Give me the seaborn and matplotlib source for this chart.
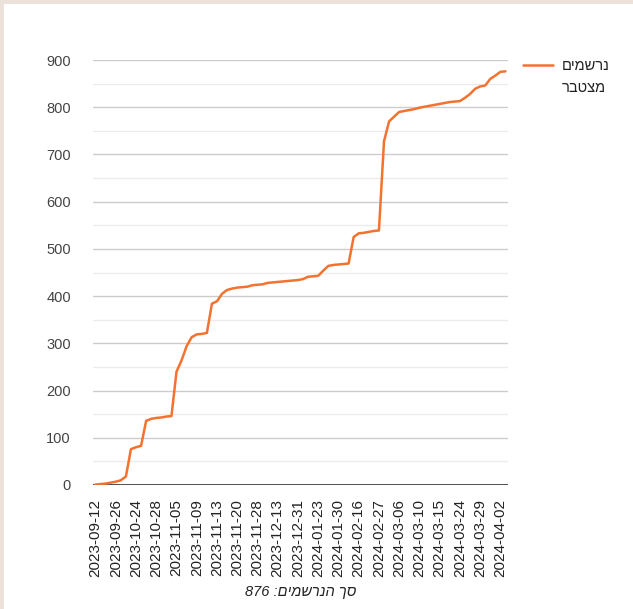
"""
Cumulative registrations chart (line chart, categorical date axis).
"""
import re

import numpy as np
import pandas as pd
import seaborn as sns
import matplotlib.pyplot as plt
from matplotlib.patches import Rectangle
from matplotlib.ticker import MultipleLocator

dates = [
    "2023-09-12", "2023-09-14", "2023-09-18", "2023-09-21",
    "2023-09-26", "2023-10-01", "2023-10-08", "2023-10-16",
    "2023-10-24", "2023-10-25", "2023-10-26", "2023-10-27",
    "2023-10-28", "2023-10-30", "2023-11-01", "2023-11-03",
    "2023-11-05", "2023-11-06", "2023-11-07", "2023-11-08",
    "2023-11-09", "2023-11-10", "2023-11-11", "2023-11-12",
    "2023-11-13", "2023-11-14", "2023-11-16", "2023-11-19",
    "2023-11-20", "2023-11-22", "2023-11-23", "2023-11-26",
    "2023-11-28", "2023-12-01", "2023-12-05", "2023-12-10",
    "2023-12-13", "2023-12-17", "2023-12-21", "2023-12-26",
    "2023-12-31", "2024-01-04", "2024-01-10", "2024-01-16",
    "2024-01-23", "2024-01-24", "2024-01-25", "2024-01-28",
    "2024-01-30", "2024-02-04", "2024-02-08", "2024-02-13",
    "2024-02-16", "2024-02-19", "2024-02-22", "2024-02-25",
    "2024-02-27", "2024-02-29", "2024-03-03", "2024-03-05",
    "2024-03-06", "2024-03-07", "2024-03-08", "2024-03-09",
    "2024-03-10", "2024-03-11", "2024-03-12", "2024-03-14",
    "2024-03-15", "2024-03-17", "2024-03-19", "2024-03-21",
    "2024-03-24", "2024-03-25", "2024-03-26", "2024-03-27",
    "2024-03-29", "2024-03-30", "2024-03-31", "2024-04-01",
    "2024-04-02", "2024-04-03",
]

cumulative = [
    1, 2, 3, 5, 7, 10, 18, 76, 80, 83,
    136, 140, 142, 143, 145, 146, 240, 264, 294, 313,
    319, 320, 322, 384, 389, 405, 413, 416, 418, 419,
    420, 423, 424, 425, 428, 429, 430, 431, 432, 433,
    434, 436, 441, 442, 443, 454, 464, 466, 467, 468,
    469, 525, 533, 534, 536, 538, 539, 728, 770, 780,
    790, 792, 794, 796, 799, 801, 803, 805, 807, 809,
    811, 812, 813, 820, 828, 839, 844, 846, 860, 867,
    875, 876,
]

series_name = "נרשמים מצטבר"
total_label = "סך הנרשמים: 876"


def visual(text):
    # matplotlib has no bidi support: flip the string for display,
    # but keep runs of digits in their own order
    flipped = text[::-1]
    return re.sub(r"\d+", lambda m: m.group(0)[::-1], flipped)


df = pd.DataFrame({"date": dates, "value": cumulative})
df["pos"] = np.arange(len(df))

sns.set_style("white")
plt.rcParams["font.family"] = ["Liberation Sans", "DejaVu Sans"]

fig = plt.figure(figsize=(6.33, 6.09), dpi=100)
fig.patch.set_facecolor("#ece2d9")
fig.patches.append(Rectangle((0.006, 0), 1, 0.994, transform=fig.transFigure,
                             facecolor="white", edgecolor="none", zorder=-10))

ax = fig.add_axes([93 / 633, 1 - 485 / 609, (508 - 93) / 633, (485 - 60) / 609])
ax.set_facecolor("none")

sns.lineplot(data=df, x="pos", y="value", ax=ax, color="#f4722f",
             linewidth=1.8, legend=False, zorder=3)

ax.set_xlim(-0.5, len(df) - 0.5)
ax.set_ylim(0, 900)
ax.yaxis.set_major_locator(MultipleLocator(100))
ax.yaxis.set_minor_locator(MultipleLocator(50))
ax.set_axisbelow(True)
ax.grid(which="major", axis="y", color="#cccccc", linewidth=1)
ax.grid(which="minor", axis="y", color="#ececec", linewidth=1)
ax.axhline(0, color="#333333", linewidth=1.2, zorder=2)
for side in ax.spines.values():
    side.set_visible(False)

ax.set_xticks(df["pos"][::4])
ax.set_xticklabels(df["date"][::4], rotation=90, fontsize=11, color="#222222")
ax.tick_params(axis="y", labelsize=10.5, labelcolor="#444444", length=0, pad=16)
ax.tick_params(axis="x", length=0, pad=10)
ax.tick_params(which="minor", length=0)
ax.set_ylabel("")
ax.set_xlabel(visual(total_label), fontsize=10.5, style="italic",
              color="#222222", labelpad=6)

# legend, wrapped on two lines like the original
fig.lines.append(plt.Line2D([523 / 633, 553 / 633], [1 - 65 / 609, 1 - 65 / 609],
                            transform=fig.transFigure, color="#f4722f", linewidth=1.8))
words = series_name.split(" ")
fig.text(562 / 633, 1 - 66 / 609, visual(words[0]), fontsize=10.5,
         color="#222222", va="center", ha="left")
fig.text(562 / 633, 1 - 88 / 609, visual(words[1]), fontsize=10.5,
         color="#222222", va="center", ha="left")

fig.savefig("out.png", dpi=100, facecolor=fig.get_facecolor())
